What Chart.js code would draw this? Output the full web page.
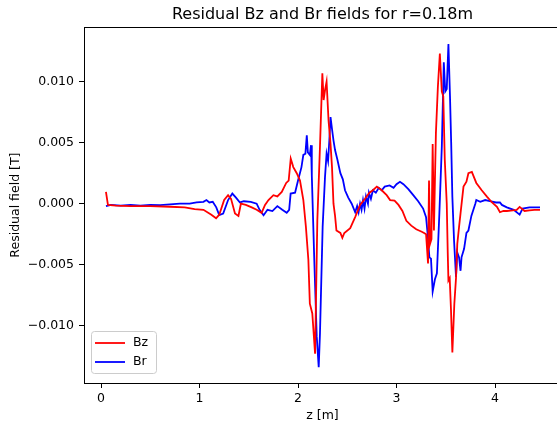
<!DOCTYPE html>
<html>
<head>
<meta charset="utf-8">
<script src="https://cdn.jsdelivr.net/npm/chart.js@4/dist/chart.umd.min.js"></script>
<style>
  html, body { margin: 0; padding: 0; background: #fff; overflow: hidden; }
  #wrap { width: 557px; height: 423px; overflow: hidden; }
</style>
</head>
<body>
<div id="wrap"><canvas id="myChart" width="565" height="423"></canvas></div>
<script>
// Bz residual (z in m, field in mT)
const bzZ = [0.05, 0.07, 0.15, 0.3, 0.5, 0.7, 0.85, 0.95, 1.04, 1.12, 1.168, 1.2, 1.25, 1.29, 1.32, 1.36, 1.395, 1.42, 1.47, 1.53, 1.58, 1.63, 1.665, 1.7, 1.75, 1.79, 1.835, 1.88, 1.905, 1.926, 1.952, 1.987, 2.02, 2.054, 2.08, 2.105, 2.12, 2.145, 2.173, 2.196, 2.223, 2.247, 2.26, 2.274, 2.29, 2.31, 2.33, 2.345, 2.36, 2.376, 2.39, 2.43, 2.45, 2.47, 2.53, 2.58, 2.63, 2.68, 2.725, 2.76, 2.8, 2.85, 2.9, 2.935, 2.98, 3.02, 3.06, 3.1, 3.15, 3.2, 3.256, 3.28, 3.3, 3.32, 3.33, 3.34, 3.355, 3.367, 3.38, 3.39, 3.4, 3.42, 3.44, 3.46, 3.475, 3.49, 3.51, 3.52, 3.527, 3.54, 3.553, 3.567, 3.587, 3.604, 3.617, 3.635, 3.65, 3.68, 3.71, 3.73, 3.765, 3.78, 3.81, 3.865, 3.92, 3.97, 4.02, 4.05, 4.085, 4.12, 4.18, 4.22, 4.25, 4.3, 4.35, 4.4, 4.457];
const bzVal = [0.97, -0.1, -0.15, -0.2, -0.2, -0.25, -0.3, -0.45, -0.5, -0.9, -1.2, -0.9, 0.3, 0.7, 0.4, -0.8, -1.0, 0.0, -0.1, -0.3, -0.5, -0.75, -0.1, 0.3, 0.7, 0.6, 0.97, 1.7, 1.9, 3.7, 3.0, 2.5, 1.9, 0.3, -1.9, -4.6, -8.2, -9.0, -12.3, -1.4, 4.7, 10.7, 8.5, 9.3, 10.0, 6.8, 4.9, 3.0, 0.0, -1.0, -2.2, -2.4, -2.8, -2.4, -2.0, -1.1, -0.1, 0.4, 0.9, 1.1, 1.4, 1.1, 0.7, 0.3, 0.25, -0.1, -0.6, -1.4, -1.8, -2.1, -2.3, -2.4, -2.5, -4.9, 1.9, -3.3, -2.9, 4.9, -2.2, 1.9, 5.8, 9.6, 12.3, 9.2, 8.8, 3.6, 0.0, -4.0, -6.3, -6.1, -8.7, -12.2, -8.2, -6.1, -3.3, -1.9, -0.8, 1.4, 1.8, 2.5, 2.6, 2.3, 1.7, 1.1, 0.56, 0.1, -0.26, -0.7, -0.6, -0.6, -0.55, -0.5, -0.26, -0.6, -0.55, -0.5, -0.5];

// Br residual
const brZ = [0.05, 0.1, 0.2, 0.3, 0.4, 0.5, 0.6, 0.7, 0.8, 0.9, 0.97, 1.04, 1.07, 1.1, 1.134, 1.17, 1.2, 1.24, 1.29, 1.333, 1.37, 1.41, 1.45, 1.52, 1.58, 1.61, 1.65, 1.69, 1.74, 1.79, 1.84, 1.885, 1.91, 1.925, 1.97, 2.0, 2.035, 2.054, 2.075, 2.089, 2.1, 2.12, 2.132, 2.14, 2.165, 2.19, 2.21, 2.223, 2.25, 2.274, 2.29, 2.305, 2.318, 2.33, 2.347, 2.36, 2.376, 2.4, 2.43, 2.455, 2.477, 2.51, 2.545, 2.58, 2.6, 2.615, 2.63, 2.645, 2.66, 2.675, 2.69, 2.71, 2.72, 2.74, 2.76, 2.79, 2.82, 2.85, 2.88, 2.93, 2.97, 3.0, 3.035, 3.07, 3.12, 3.17, 3.22, 3.27, 3.3, 3.315, 3.334, 3.35, 3.367, 3.39, 3.41, 3.435, 3.46, 3.48, 3.495, 3.51, 3.527, 3.543, 3.555, 3.567, 3.584, 3.604, 3.617, 3.635, 3.65, 3.66, 3.686, 3.71, 3.73, 3.76, 3.8, 3.81, 3.85, 3.9, 3.96, 4.01, 4.05, 4.07, 4.12, 4.19, 4.25, 4.28, 4.35, 4.4, 4.457];
const brVal = [-0.2, -0.1, -0.15, -0.1, -0.15, -0.1, -0.12, -0.05, 0.0, 0.0, 0.1, 0.15, 0.3, 0.1, 0.15, -0.3, -0.94, -0.8, 0.3, 0.83, 0.5, 0.1, 0.2, 0.15, 0.0, -0.5, -0.94, -0.5, -0.6, -0.2, -0.5, -0.75, -0.5, 0.83, 0.9, 1.9, 3.0, 4.0, 4.1, 5.6, 4.2, 4.0, 4.8, 2.3, -4.6, -10.9, -13.4, -10.6, -1.9, 2.2, 4.1, 3.5, 5.2, 7.1, 6.0, 5.2, 4.4, 3.6, 2.5, 2.0, 1.1, 0.5, 0.0, -0.7, -0.2, -0.7, 0.0, -0.5, 0.3, -0.4, 0.6, 0.0, 0.9, 0.4, 1.1, 0.9, 1.3, 1.1, 1.4, 1.5, 1.3, 1.6, 1.8, 1.6, 1.2, 0.7, 0.2, -0.4, -1.1, -2.4, -4.4, -4.5, -7.2, -6.2, -5.7, -0.8, 4.7, 11.6, 9.2, 9.4, 13.1, 8.8, 5.0, 0.56, -3.0, -6.0, -4.0, -4.4, -5.5, -4.4, -3.7, -2.4, -2.2, -1.0, 0.0, 0.3, 0.15, 0.3, 0.2, 0.1, 0.1, -0.1, -0.3, -0.5, -0.9, -0.4, -0.3, -0.3, -0.3];

const xTicks = [0, 1, 2, 3, 4];
const yTicks = [-0.010, -0.005, 0.000, 0.005, 0.010];

const FONT = "'DejaVu Sans', sans-serif";

// mT -> T and pair with z
function toPoints(zs, vals) {
    return zs.map((z, i) => ({ x: z, y: vals[i] / 1000 }));
}

function fmtY(v) {
    let s = Math.abs(v).toFixed(3);
    return (v < -1e-9 ? "\u2212" : "") + s;
}

// box around the axes, like matplotlib spines
const framePlugin = {
    id: "frame",
    afterDatasetsDraw(chart) {
        const a = chart.chartArea;
        const ctx = chart.ctx;
        ctx.save();
        ctx.strokeStyle = "#000";
        ctx.lineWidth = 1;
        ctx.strokeRect(Math.round(a.left) + 0.5, Math.round(a.top) + 0.5,
                       Math.round(a.right - a.left), Math.round(a.bottom - a.top));
        ctx.restore();
    }
};

// legend box in the lower left corner
const legendPlugin = {
    id: "mplLegend",
    afterDraw(chart) {
        const a = chart.chartArea;
        const ctx = chart.ctx;
        const sets = chart.data.datasets;
        const bx = a.left + 7, bw = 65, rowH = 19;
        const bh = sets.length * rowH + 4;
        const by = a.bottom - 10 - bh;
        ctx.save();
        ctx.fillStyle = "rgba(255,255,255,0.8)";
        ctx.strokeStyle = "#cccccc";
        ctx.lineWidth = 1;
        ctx.beginPath();
        ctx.roundRect(bx + 0.5, by + 0.5, bw, bh, 3);
        ctx.fill();
        ctx.stroke();
        ctx.font = "12.5px " + FONT;
        ctx.textBaseline = "middle";
        sets.forEach((ds, i) => {
            const y = by + 12 + i * rowH;
            ctx.strokeStyle = ds.borderColor;
            ctx.lineWidth = 1.8;
            ctx.beginPath();
            ctx.moveTo(bx + 4, y);
            ctx.lineTo(bx + 34, y);
            ctx.stroke();
            ctx.fillStyle = "#000";
            ctx.fillText(ds.label, bx + 42, y);
        });
        ctx.restore();
    }
};

const ctx = document.getElementById("myChart").getContext("2d");

const myChart = new Chart(ctx, {
    type: "line",
    data: {
        datasets: [
            {
                label: "Bz",
                data: toPoints(bzZ, bzVal),
                borderColor: "#ff0000",
                borderWidth: 1.8,
                pointRadius: 0,
                tension: 0,
                fill: false
            },
            {
                label: "Br",
                data: toPoints(brZ, brVal),
                borderColor: "#0000ff",
                borderWidth: 1.8,
                pointRadius: 0,
                tension: 0,
                fill: false
            }
        ]
    },
    options: {
        responsive: false,
        animation: false,
        layout: { padding: { left: 0, right: 4, top: 0, bottom: 0 } },
        plugins: {
            legend: { display: false },
            tooltip: { enabled: false },
            title: {
                display: true,
                text: "Residual Bz and Br fields for r=0.18m",
                color: "#000",
                fullSize: false,
                font: { family: FONT, size: 16, weight: "normal" },
                padding: { top: 5, bottom: 3 }
            }
        },
        scales: {
            x: {
                type: "linear",
                min: -0.173,
                max: 4.67,
                afterFit: s => { s.height = 40; },
                afterBuildTicks: s => { s.ticks = xTicks.map(v => ({ value: v })); },
                border: { display: false },
                grid: { display: true, drawOnChartArea: false, tickLength: 5, tickColor: "#000", tickWidth: 1 },
                ticks: {
                    color: "#000",
                    padding: 3,
                    maxRotation: 0,
                    font: { family: FONT, size: 12.5 },
                    callback: v => String(v)
                },
                title: {
                    display: true,
                    text: "z [m]",
                    color: "#000",
                    padding: { top: 0, bottom: 0 },
                    font: { family: FONT, size: 12.5 }
                }
            },
            y: {
                type: "linear",
                min: -0.0147,
                max: 0.01447,
                afterFit: s => { s.width = 84; },
                afterBuildTicks: s => { s.ticks = yTicks.map(v => ({ value: v })); },
                border: { display: false },
                grid: { display: true, drawOnChartArea: false, tickLength: 5, tickColor: "#000", tickWidth: 1 },
                ticks: {
                    color: "#000",
                    padding: 5,
                    font: { family: FONT, size: 12.5 },
                    callback: v => fmtY(v)
                },
                title: {
                    display: true,
                    text: "Residual field [T]",
                    color: "#000",
                    padding: { top: 8, bottom: 0 },
                    font: { family: FONT, size: 12.5 }
                }
            }
        }
    },
    plugins: [framePlugin, legendPlugin]
});
</script>
</body>
</html>
